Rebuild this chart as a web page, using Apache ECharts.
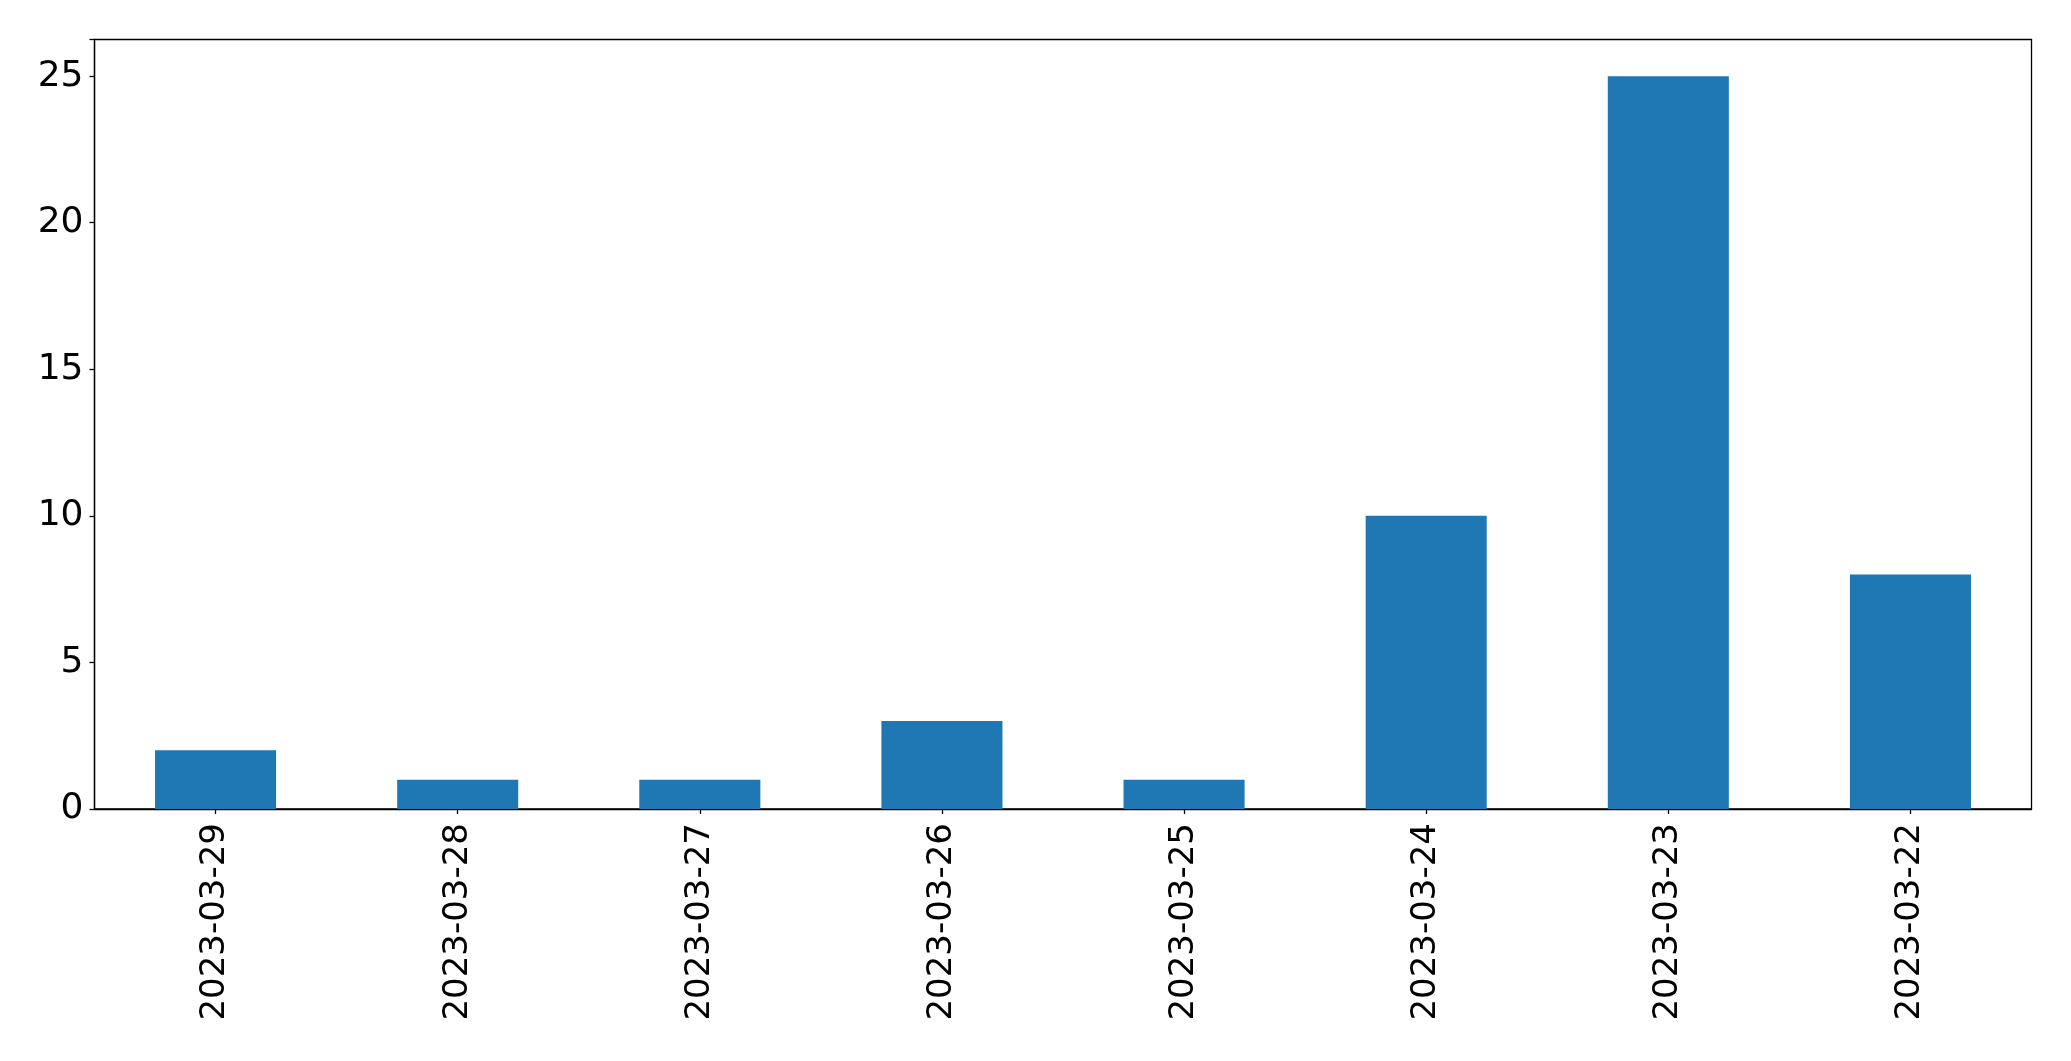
<!DOCTYPE html>
<html><head><meta charset="utf-8">
<script src="https://cdn.jsdelivr.net/npm/echarts@6/dist/echarts.min.js"></script>
<style>html,body{margin:0;padding:0;background:#fff}#c{width:2071px;height:1061px}</style>
</head><body><div id="c"></div>
<script>
const categories = ['2023-03-29','2023-03-28','2023-03-27','2023-03-26','2023-03-25','2023-03-24','2023-03-23','2023-03-22'];
const values = [2, 1, 1, 3, 1, 10, 25, 8];
const yTicks = [0, 5, 10, 15, 20, 25];

const chart = echarts.init(document.getElementById('c'), null, {renderer: 'canvas'});
const font = 'DejaVu Sans';
chart.setOption({
  animation: false,
  backgroundColor: '#fff',
  grid: {left: 94.5, right: 39.5, top: 39.5, bottom: 252, show: true, borderColor: '#000', borderWidth: 1.3, backgroundColor: 'transparent'},
  xAxis: {
    type: 'category', data: categories,
    axisLine: {show: true, lineStyle: {color: '#000', width: 1.3}},
    axisTick: {show: true, alignWithLabel: true, length: 5, lineStyle: {color: '#000', width: 1.3}},
    axisLabel: {rotate: 90, margin: 14, fontSize: 34, color: '#000', fontFamily: font, interval: 0},
    splitLine: {show: false}
  },
  yAxis: {
    type: 'value', min: 0, max: 26.25, interval: 5,
    axisLine: {show: true, lineStyle: {color: '#000', width: 1.3}},
    axisTick: {show: true, length: 5, lineStyle: {color: '#000', width: 1.3}},
    axisLabel: {margin: 11, fontSize: 36, color: '#000', fontFamily: font,
      formatter: v => yTicks.includes(v) ? String(v) : ''},
    splitLine: {show: false}
  },
  series: [{type: 'bar', data: values, barWidth: '50%', itemStyle: {color: '#1f77b4'}}]
});
</script></body></html>
